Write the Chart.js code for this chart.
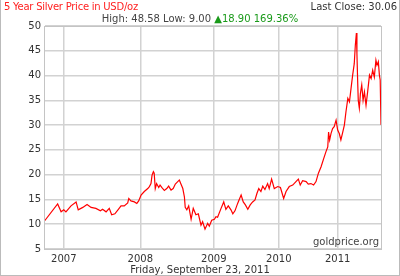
<!DOCTYPE html>
<html>
<head>
<meta charset="utf-8">
<script src="https://cdn.jsdelivr.net/npm/chart.js@4"></script>
<style>
  html, body { margin: 0; padding: 0; background: #fff; }
  #wrap { position: relative; width: 400px; height: 276px; box-sizing: border-box;
          border-left: 1px solid #bbb; border-right: 1px solid #bbb; border-bottom: 1px solid #bbb;
          font-family: 'DejaVu Sans', Verdana, sans-serif; font-size: 10px; }
  #wrap canvas { position: absolute; left: 0; top: 0; }
  .txt { position: absolute; white-space: nowrap; line-height: 12px; }
  #title { left: 3px; top: 1px; color: #ff2020; letter-spacing: -0.25px; }
  #last { right: 2px; top: 1px; color: #333; }
  #stats { left: 0; width: 398px; text-align: center; top: 13px; color: #444; }
  #stats .up { color: #1a9a1a; }
  #site { right: 20px; top: 236px; color: #444; }
  #date { left: 0; width: 398px; text-align: center; top: 264px; color: #333; }
</style>
</head>
<body>
<div id="wrap">
  <canvas id="chart" width="400" height="276"></canvas>
  <div class="txt" id="title">5 Year Silver Price in USD/oz</div>
  <div class="txt" id="last">Last Close: 30.06</div>
  <div class="txt" id="stats">High: 48.58 Low: 9.00 <span class="up">&#9650;18.90 169.36%</span></div>
  <div class="txt" id="site">goldprice.org</div>
  <div class="txt" id="date">Friday, September 23, 2011</div>
</div>
<script>
// trading-day index from the start of the 5 year window
const days = [0, 4, 51, 64, 74, 82, 101, 120, 128, 145, 161, 176, 194, 211, 219, 232, 244, 253, 265, 278,
  288, 300, 313, 317, 325, 338, 347, 354, 363, 375, 388, 394, 400, 404, 409, 412, 416, 421, 429, 434,
  441, 450, 459, 466, 475, 483, 491, 500, 506, 512, 519, 525, 528, 534, 541, 550, 558, 568, 577, 587,
  593, 602, 612, 618, 627, 637, 643, 649, 662, 672, 680, 689, 699, 706, 714, 724, 730, 737, 745, 753,
  762, 771, 780, 789, 796, 803, 811, 818, 826, 836, 842, 851, 861, 874, 884, 896, 905, 917, 930, 942,
  951, 958, 967, 980, 988, 998, 1008, 1017, 1026, 1036, 1046, 1054, 1061, 1064, 1068, 1073, 1079, 1085, 1092, 1098,
  1104, 1110, 1117, 1123, 1129, 1136, 1142, 1148, 1154, 1160, 1164, 1168, 1170, 1173, 1175, 1179, 1183, 1188, 1193, 1198,
  1204, 1210, 1217, 1223, 1229, 1235, 1241, 1245, 1250, 1254, 1257, 1260];

const prices = [11.2, 10.8, 14.1, 12.5, 12.9, 12.5, 13.7, 14.5, 12.9, 13.4, 14.0, 13.4, 13.2, 12.7, 13.0, 12.5, 13.2, 11.9, 12.1, 13.0,
  13.7, 13.7, 14.3, 15.2, 14.7, 14.5, 14.2, 14.7, 15.9, 16.6, 17.2, 17.6, 18.2, 19.9, 20.6, 20.3, 17.2, 18.2, 17.4, 17.9,
  17.4, 16.8, 17.2, 17.7, 16.9, 17.2, 18.1, 18.6, 18.9, 18.1, 17.2, 15.5, 13.4, 12.9, 13.7, 11.0, 13.2, 11.9, 12.1, 9.8,
  10.5, 9.0, 10.2, 9.6, 10.8, 11.0, 11.5, 11.4, 13.2, 14.5, 13.0, 13.7, 12.9, 12.1, 12.7, 14.2, 15.0, 15.9, 14.5, 13.9,
  13.0, 13.9, 14.5, 14.9, 16.2, 17.2, 16.6, 17.7, 17.0, 18.2, 17.2, 19.1, 17.2, 17.6, 17.4, 15.2, 16.6, 17.6, 17.9, 18.6,
  19.1, 17.9, 18.8, 18.6, 18.1, 18.2, 17.9, 18.6, 20.3, 21.6, 23.3, 24.6, 25.6, 28.6, 27.0, 28.3, 29.3, 29.7, 31.0, 29.0,
  28.3, 27.0, 28.6, 30.0, 32.7, 35.4, 34.7, 37.4, 40.1, 42.4, 46.1, 48.58, 44.4, 38.4, 35.0, 33.4, 36.4, 38.1, 35.0, 36.7,
  34.0, 36.7, 40.1, 39.4, 41.1, 39.7, 43.1, 42.1, 42.8, 40.1, 39.1, 30.06];

const yearLabels = ['2007', '2008', '2009', '2010', '2011'];
const yearDays = [74, 360, 635, 878, 1098];

const frame = {
  id: 'frame',
  afterDraw(chart) {
    const a = chart.chartArea, ctx = chart.ctx;
    ctx.save();
    ctx.strokeStyle = '#c4c4c4';
    ctx.lineWidth = 1;
    ctx.strokeRect(a.left + 0.5, a.top + 0.5, a.right - a.left, a.bottom - a.top);
    ctx.restore();
  }
};

new Chart(document.getElementById('chart'), {
  type: 'line',
  data: {
    datasets: [{
      data: days.map((d, i) => ({x: d, y: prices[i]})),
      borderColor: '#ff0000',
      borderWidth: 1.2,
      pointRadius: 0,
      tension: 0
    }]
  },
  options: {
    responsive: false,
    animation: false,
    layout: {padding: {top: 26, right: 20, left: 0, bottom: 0}},
    plugins: {legend: {display: false}, tooltip: {enabled: false}},
    scales: {
      x: {
        type: 'linear',
        min: 0,
        max: 1260,
        afterBuildTicks: scale => { scale.ticks = yearDays.map(v => ({value: v})); },
        afterFit: scale => { scale.height = 27; },
        ticks: {
          autoSkip: false,
          maxRotation: 0,
          padding: 4,
          color: '#333',
          font: {family: 'DejaVu Sans', size: 10},
          callback: (v) => yearLabels[yearDays.indexOf(v)]
        },
        grid: {color: '#d2d2d2', lineWidth: 1.5, drawTicks: false},
        border: {color: '#c4c4c4'}
      },
      y: {
        min: 5,
        max: 50,
        afterFit: scale => { scale.width = 43; },
        ticks: {
          stepSize: 5,
          padding: 3,
          color: '#333',
          font: {family: 'DejaVu Sans', size: 10}
        },
        grid: {color: '#d2d2d2', lineWidth: 1.5, drawTicks: false},
        border: {color: '#c4c4c4'}
      }
    }
  },
  plugins: [frame]
});
</script>
</body>
</html>
